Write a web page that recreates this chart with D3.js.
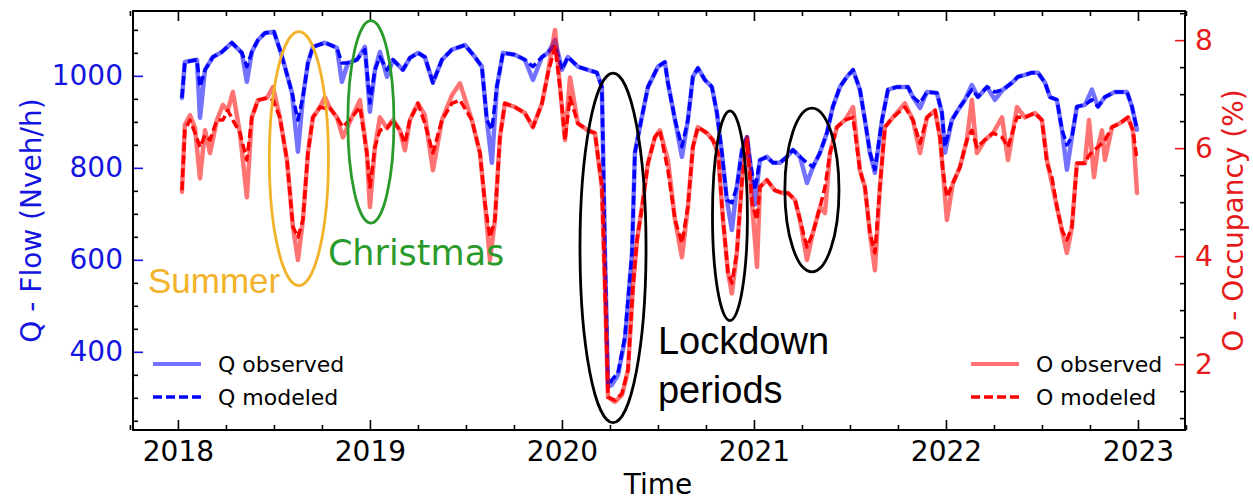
<!DOCTYPE html>
<html lang="en">
<head>
<meta charset="UTF-8">
<title>Flow and occupancy 2018-2023</title>
<script src="https://d3js.org/d3.v7.min.js"></script>
<style>
  body { margin: 0; background: #fff; }
  svg text { font-family: "DejaVu Sans", sans-serif; }
</style>
</head>
<body>
<svg id="chart" width="1253" height="500"></svg>
<script>
// ---- data (time in decimal years) ----
var qTime = [2018.021,2018.036,2018.099,2018.115,2018.141,2018.182,2018.229,2018.281,2018.307,2018.333,
  2018.359,2018.385,2018.417,2018.453,2018.500,2018.531,2018.557,2018.594,2018.625,2018.651,
  2018.677,2018.703,2018.766,2018.828,2018.854,2018.885,2018.932,2018.974,2019.000,2019.026,
  2019.052,2019.089,2019.120,2019.172,2019.208,2019.250,2019.286,2019.328,2019.375,2019.427,
  2019.495,2019.547,2019.583,2019.609,2019.635,2019.661,2019.693,2019.755,2019.807,2019.849,
  2019.896,2019.927,2019.964,2020.000,2020.031,2020.083,2020.135,2020.182,2020.208,2020.224,
  2020.240,2020.260,2020.292,2020.328,2020.365,2020.380,2020.406,2020.448,2020.500,2020.536,
  2020.552,2020.589,2020.625,2020.656,2020.682,2020.708,2020.745,2020.781,2020.807,2020.833,
  2020.859,2020.885,2020.911,2020.938,2020.964,2020.979,2021.005,2021.031,2021.068,2021.099,
  2021.135,2021.172,2021.203,2021.240,2021.276,2021.307,2021.344,2021.380,2021.411,2021.448,
  2021.484,2021.516,2021.552,2021.578,2021.604,2021.630,2021.667,2021.698,2021.745,2021.802,
  2021.828,2021.865,2021.901,2021.953,2021.979,2021.995,2022.031,2022.063,2022.099,2022.135,
  2022.167,2022.214,2022.255,2022.297,2022.344,2022.375,2022.411,2022.448,2022.479,2022.516,
  2022.542,2022.578,2022.604,2022.630,2022.656,2022.682,2022.724,2022.760,2022.792,2022.828,
  2022.880,2022.943,2022.969,2022.995];
var qModeled = [952,1030,1035,976,1013,1041,1052,1072,1061,1050,
  1020,1052,1078,1093,1096,1057,1020,963,904,954,
  1028,1063,1072,1061,1028,1028,1035,1057,941,1013,
  1041,1013,1035,1013,1039,1050,1041,985,1035,1057,
  1067,1041,1020,904,883,976,1050,1046,1035,1020,
  1041,1050,1067,1013,1041,1020,1013,1007,976,615,
  324,339,354,433,615,833,889,976,1020,1030,
  985,904,846,904,998,1017,991,976,920,833,
  730,724,759,839,867,817,752,817,824,811,
  811,824,839,824,811,802,833,876,933,976,
  998,1013,970,904,833,796,904,970,976,976,
  954,941,965,963,920,846,904,926,948,970,
  954,976,965,970,985,998,1002,1007,1007,985,
  954,948,883,850,867,933,937,948,933,954,
  965,965,933,883];
var qObserved = [952,1030,1035,909,1013,1041,1052,1072,1061,1050,
  987,1052,1078,1093,1096,1057,1020,963,835,954,
  1028,1063,1072,1061,987,1028,1035,1063,922,1013,
  1052,998,1035,1013,1039,1050,1041,985,1035,1057,
  1067,1041,1020,904,811,976,1050,1046,1035,991,
  1041,1050,1078,1013,1041,1020,1013,1007,976,615,
  324,328,350,426,615,833,889,976,1020,1030,
  985,904,824,904,998,1017,991,976,920,833,
  730,665,759,839,867,817,720,817,824,811,
  811,824,839,824,767,802,833,876,933,976,
  998,1013,970,904,833,789,904,970,976,976,
  954,930,965,963,920,833,904,926,948,980,
  954,976,948,970,985,998,1002,1007,1007,985,
  954,948,883,796,867,933,937,970,933,954,
  965,965,933,883];

var oTime = [2018.021,2018.036,2018.063,2018.089,2018.115,2018.141,2018.167,2018.203,2018.234,2018.260,
  2018.286,2018.323,2018.359,2018.385,2018.417,2018.464,2018.495,2018.531,2018.568,2018.599,
  2018.625,2018.651,2018.677,2018.703,2018.740,2018.766,2018.792,2018.828,2018.859,2018.906,
  2018.948,2018.984,2019.000,2019.026,2019.052,2019.089,2019.120,2019.156,2019.182,2019.208,
  2019.250,2019.286,2019.328,2019.375,2019.427,2019.469,2019.531,2019.573,2019.599,2019.625,
  2019.651,2019.677,2019.703,2019.755,2019.807,2019.849,2019.896,2019.927,2019.964,2019.990,
  2020.016,2020.042,2020.083,2020.135,2020.172,2020.208,2020.224,2020.240,2020.276,2020.313,
  2020.344,2020.370,2020.391,2020.417,2020.448,2020.484,2020.510,2020.552,2020.589,2020.625,
  2020.656,2020.682,2020.708,2020.755,2020.786,2020.813,2020.839,2020.865,2020.885,2020.911,
  2020.938,2020.964,2020.990,2021.016,2021.031,2021.068,2021.109,2021.146,2021.177,2021.214,
  2021.240,2021.276,2021.307,2021.344,2021.370,2021.396,2021.432,2021.474,2021.516,2021.552,
  2021.578,2021.604,2021.630,2021.656,2021.682,2021.724,2021.786,2021.828,2021.865,2021.901,
  2021.943,2021.969,2021.984,2022.005,2022.036,2022.073,2022.109,2022.135,2022.161,2022.203,
  2022.245,2022.292,2022.323,2022.370,2022.411,2022.464,2022.500,2022.526,2022.552,2022.578,
  2022.604,2022.630,2022.656,2022.682,2022.724,2022.745,2022.771,2022.792,2022.813,2022.828,
  2022.865,2022.906,2022.948,2022.974,2022.995];
var oModeled = [5.22,6.33,6.52,6.28,6.02,6.24,6.15,6.52,6.52,6.70,
  6.52,6.28,5.78,6.57,6.89,6.93,6.89,6.57,5.78,4.54,
  4.35,4.67,5.91,6.57,6.76,6.74,6.74,6.57,6.39,6.57,
  6.76,5.91,5.28,6.02,6.33,6.37,6.52,6.33,6.09,6.52,
  6.83,6.46,5.91,6.52,6.83,6.89,6.52,5.91,4.98,4.35,
  4.67,6.20,6.83,6.76,6.65,6.39,6.83,7.39,7.87,7.13,
  6.15,6.94,6.46,6.33,6.28,5.28,3.43,1.39,1.33,1.46,
  1.89,3.43,4.30,4.91,5.72,6.20,6.33,5.59,4.67,4.24,
  4.91,6.02,6.39,6.28,6.15,5.91,4.67,3.69,3.50,4.06,
  5.41,6.15,4.98,4.67,5.28,5.41,5.22,5.17,5.17,5.04,
  4.67,4.17,4.43,4.91,5.28,5.91,6.39,6.52,6.57,5.59,
  5.28,4.43,4.06,5.28,6.39,6.57,6.76,6.52,6.09,6.57,
  6.70,6.20,5.59,5.09,5.35,5.65,6.15,6.33,6.02,6.15,
  6.28,6.20,6.02,6.57,6.57,6.65,6.52,5.72,5.46,4.91,
  4.48,4.30,4.54,5.72,5.72,5.87,5.96,6.02,6.09,6.15,
  6.39,6.46,6.57,6.33,5.78];
var oObserved = [5.19,6.43,6.61,6.37,5.44,6.33,5.91,6.52,6.80,6.70,
  7.04,6.28,5.09,6.57,6.89,6.93,7.13,6.57,5.78,4.54,
  3.93,4.67,5.91,6.57,6.76,6.94,6.74,6.57,6.20,6.57,
  6.89,5.91,4.91,6.02,6.57,6.37,6.52,6.33,5.96,6.52,
  6.83,6.61,5.59,6.52,6.98,7.20,6.52,5.91,4.98,3.93,
  4.67,6.20,6.83,6.76,6.65,6.39,6.83,7.39,8.19,7.13,
  6.15,7.31,6.46,6.33,6.28,5.28,3.43,1.39,1.30,1.43,
  1.89,3.43,4.30,4.91,5.72,6.20,6.33,5.78,4.67,3.98,
  4.91,6.02,6.39,6.28,6.15,5.91,4.67,3.69,3.31,4.06,
  5.41,6.20,4.98,3.80,5.28,5.41,5.22,5.17,5.17,5.04,
  4.67,3.93,4.43,4.91,4.80,5.91,6.39,6.52,6.76,5.59,
  5.28,4.43,3.74,5.28,6.39,6.57,6.83,6.52,5.91,6.57,
  6.70,6.20,5.59,4.67,5.35,5.65,6.15,6.89,5.91,6.15,
  6.28,6.57,5.78,6.76,6.57,6.65,6.52,5.78,5.35,4.91,
  4.48,4.06,4.54,5.72,5.72,6.52,5.46,6.02,6.33,5.78,
  6.39,6.46,6.57,6.33,5.17];

var yearTicks = [2018, 2019, 2020, 2021, 2022, 2023];
var flowTicks = [400, 600, 800, 1000];
var occTicks = [2, 4, 6, 8];

// annotation ellipses, in data units (centre time / flow, half width in years, half height in veh/h)
var highlights = [
  { t: 2018.630, q: 820, halfT: 0.154, halfQ: 276, colour: '#f2b229' },
  { t: 2019.005, q: 900, halfT: 0.120, halfQ: 220, colour: '#2a9a2a' },
  { t: 2020.266, q: 626, halfT: 0.172, halfQ: 380, colour: '#000' },
  { t: 2020.875, q: 696, halfT: 0.091, halfQ: 228, colour: '#000' },
  { t: 2021.302, q: 752, halfT: 0.141, halfQ: 178, colour: '#000' }
];
var notes = [
  { text: 'Summer', t: 2017.844, q: 528, colour: '#f2b229', size: 35, font: '"Liberation Sans", Arial, sans-serif' },
  { text: 'Christmas', t: 2018.781, q: 589, colour: '#2a9a2a', size: 35, font: '"DejaVu Sans", sans-serif' },
  { text: 'Lockdown', t: 2020.500, q: 396, colour: '#000', size: 38, font: '"Liberation Sans", Arial, sans-serif' },
  { text: 'periods', t: 2020.500, q: 289, colour: '#000', size: 38, font: '"Liberation Sans", Arial, sans-serif' }
];

// ---- layout ----
var margin = { top: 11, right: 68, bottom: 70, left: 133 };
var W = 1253, H = 500;
var width = W - margin.left - margin.right;
var height = H - margin.top - margin.bottom;

var blue = '#0000ff', red = '#ff0000';
var tickBlue = '#1414e0', tickRed = '#e61a1a';

var svg = d3.select('#chart');
var g = svg.append('g').attr('transform', 'translate(' + margin.left + ',' + margin.top + ')');

var x = d3.scaleLinear().domain([2017.766, 2023.245]).range([0, width]);
var yQ = d3.scaleLinear().domain([230, 1141]).range([height, 0]);
var yO = d3.scaleLinear().domain([0.78, 8.54]).range([height, 0]);

svg.append('defs').append('clipPath').attr('id', 'plot')
  .append('rect').attr('width', width).attr('height', height);

// ---- axes ----
function styleAxis(sel, colour, labelColour) {
  sel.select('.domain').remove();
  sel.selectAll('.tick line').attr('stroke', colour).attr('stroke-width', 1.6);
  sel.selectAll('.tick text').attr('fill', labelColour).style('font-size', '28px');
}

var minorYears = d3.range(2017.75, 2023.3, 0.25).filter(function(v) { return v % 1 !== 0; });

g.append('g').attr('transform', 'translate(0,' + height + ')')
  .call(d3.axisBottom(x).tickValues(minorYears).tickSize(-5).tickFormat(''))
  .call(styleAxis, '#000', '#000');
g.append('g').attr('transform', 'translate(0,' + height + ')')
  .call(d3.axisBottom(x).tickValues(yearTicks).tickSize(-10).tickPadding(11).tickFormat(d3.format('d')))
  .call(styleAxis, '#000', '#000');
g.append('g')
  .call(d3.axisTop(x).tickValues(minorYears).tickSize(-5).tickFormat(''))
  .call(styleAxis, '#000', '#000');
g.append('g')
  .call(d3.axisTop(x).tickValues(yearTicks).tickSize(-10).tickFormat(''))
  .call(styleAxis, '#000', '#000');

var minorFlow = d3.range(250, 1141, 50).filter(function(v) { return v % 200 !== 0; });
g.append('g')
  .call(d3.axisLeft(yQ).tickValues(minorFlow).tickSize(-5).tickFormat(''))
  .call(styleAxis, '#000', '#000');
g.append('g')
  .call(d3.axisLeft(yQ).tickValues(flowTicks).tickSize(-10).tickPadding(10).tickFormat(d3.format('d')))
  .call(styleAxis, tickBlue, tickBlue);

var minorOcc = d3.range(1, 8.6, 0.5).filter(function(v) { return v % 2 !== 0; });
g.append('g').attr('transform', 'translate(' + width + ',0)')
  .call(d3.axisRight(yO).tickValues(minorOcc).tickSize(-5).tickFormat(''))
  .call(styleAxis, '#000', '#000');
g.append('g').attr('transform', 'translate(' + width + ',0)')
  .call(d3.axisRight(yO).tickValues(occTicks).tickSize(-10).tickPadding(10).tickFormat(d3.format('d')))
  .call(styleAxis, tickRed, tickRed);

// ---- lines ----
function series(t, v) {
  return t.map(function(d, i) { return [d, v[i]]; });
}
function lineFor(yScale) {
  return d3.line().x(function(d) { return x(d[0]); }).y(function(d) { return yScale(d[1]); });
}
var lines = g.append('g').attr('clip-path', 'url(#plot)')
  .attr('stroke-linejoin', 'round').attr('stroke-linecap', 'round');

lines.append('path').datum(series(qTime, qObserved))
  .attr('d', lineFor(yQ)).attr('fill', 'none')
  .attr('stroke', blue).attr('stroke-opacity', 0.55).attr('stroke-width', 4.5);
lines.append('path').datum(series(qTime, qModeled))
  .attr('d', lineFor(yQ)).attr('fill', 'none').attr('stroke-linecap', 'butt')
  .attr('stroke', blue).attr('stroke-width', 3.5).attr('stroke-dasharray', '9,4');
lines.append('path').datum(series(oTime, oObserved))
  .attr('d', lineFor(yO)).attr('fill', 'none')
  .attr('stroke', red).attr('stroke-opacity', 0.55).attr('stroke-width', 4.5);
lines.append('path').datum(series(oTime, oModeled))
  .attr('d', lineFor(yO)).attr('fill', 'none').attr('stroke-linecap', 'butt')
  .attr('stroke', red).attr('stroke-width', 3.5).attr('stroke-dasharray', '9,4');

// frame
g.append('rect').attr('width', width).attr('height', height)
  .attr('fill', 'none').attr('stroke', '#000').attr('stroke-width', 2);

// ---- annotations ----
g.selectAll('ellipse.hl').data(highlights).enter().append('ellipse')
  .attr('class', 'hl')
  .attr('cx', function(d) { return x(d.t); })
  .attr('cy', function(d) { return yQ(d.q); })
  .attr('rx', function(d) { return x(d.t + d.halfT) - x(d.t); })
  .attr('ry', function(d) { return yQ(d.q - d.halfQ) - yQ(d.q); })
  .attr('fill', 'none').attr('stroke', function(d) { return d.colour; })
  .attr('stroke-width', 2.8);

g.selectAll('text.note').data(notes).enter().append('text')
  .attr('class', 'note')
  .attr('x', function(d) { return x(d.t); })
  .attr('y', function(d) { return yQ(d.q); })
  .attr('fill', function(d) { return d.colour; })
  .style('font-family', function(d) { return d.font; })
  .style('font-size', function(d) { return d.size + 'px'; })
  .text(function(d) { return d.text; });

// ---- axis titles ----
svg.append('text').attr('x', margin.left + x(2020.5)).attr('y', 494)
  .attr('text-anchor', 'middle').style('font-size', '28px').attr('fill', '#000')
  .text('Time');
svg.append('text').attr('transform', 'translate(41,' + (margin.top + height / 2) + ') rotate(-90)')
  .attr('text-anchor', 'middle').style('font-size', '28px').attr('fill', tickBlue)
  .text('Q - Flow (Nveh/h)');
svg.append('text').attr('transform', 'translate(1243,' + (margin.top + height / 2) + ') rotate(-90)')
  .attr('text-anchor', 'middle').style('font-size', '28px').attr('fill', tickRed)
  .text('O - Occupancy (%)');

// ---- legends ----
function legend(x0, y0, colour, labels) {
  var lg = svg.append('g').attr('transform', 'translate(' + x0 + ',' + y0 + ')');
  lg.append('line').attr('x1', 0).attr('x2', 48).attr('y1', 0).attr('y2', 0)
    .attr('stroke', colour).attr('stroke-opacity', 0.55).attr('stroke-width', 4);
  lg.append('line').attr('x1', 0).attr('x2', 48).attr('y1', 33).attr('y2', 33)
    .attr('stroke', colour).attr('stroke-width', 3.5).attr('stroke-dasharray', '9,4');
  lg.selectAll('text').data(labels).enter().append('text')
    .attr('x', 65).attr('y', function(d, i) { return i * 33 + 8; })
    .style('font-size', '22px').attr('fill', '#000')
    .text(function(d) { return d; });
}
legend(153, 364, blue, ['Q observed', 'Q modeled']);
legend(971, 364, red, ['O observed', 'O modeled']);
</script>
</body>
</html>
